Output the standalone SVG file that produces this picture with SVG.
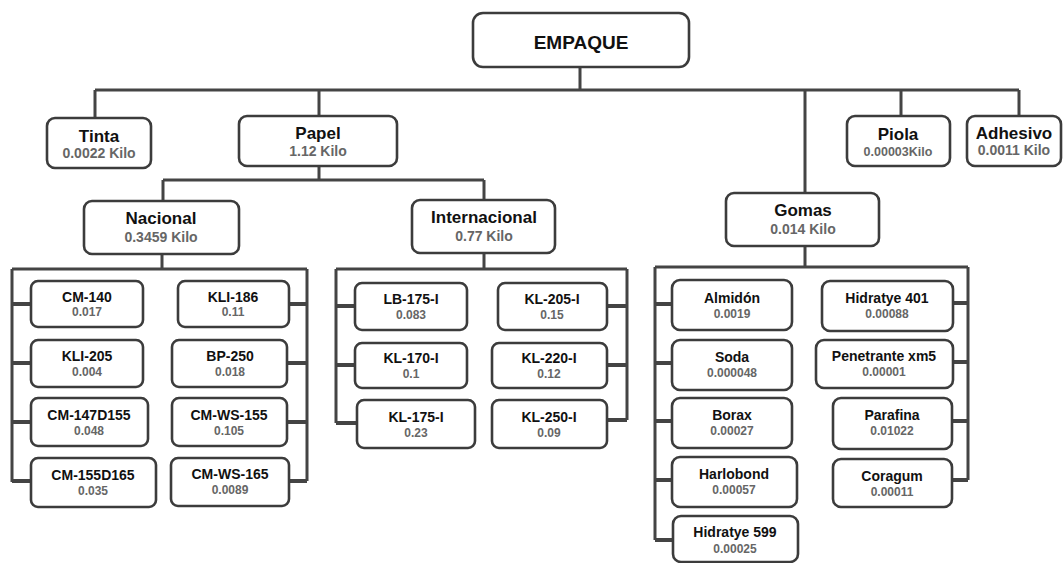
<svg xmlns="http://www.w3.org/2000/svg" width="1064" height="563" viewBox="0 0 1064 563">
<style>
.box{fill:#fff;stroke:#3c3c3c;stroke-width:2.6}
.t0{font-family:"Liberation Sans",Arial,sans-serif;font-weight:bold;font-size:19px;fill:#111;text-anchor:middle}
.t1{font-family:"Liberation Sans",Arial,sans-serif;font-weight:bold;font-size:17px;fill:#111;text-anchor:middle}
.v1{font-family:"Liberation Sans",Arial,sans-serif;font-weight:bold;font-size:14px;fill:#666;text-anchor:middle}
.v1s{font-family:"Liberation Sans",Arial,sans-serif;font-weight:bold;font-size:12.5px;fill:#666;text-anchor:middle}
.t2{font-family:"Liberation Sans",Arial,sans-serif;font-weight:bold;font-size:14px;fill:#111;text-anchor:middle}
.v2{font-family:"Liberation Sans",Arial,sans-serif;font-weight:bold;font-size:12px;fill:#666;text-anchor:middle}
.ln{fill:none;stroke:#444;stroke-width:3}
.st{fill:none;stroke:#444;stroke-width:4}
</style>
<rect width="1064" height="563" fill="#fff"/>
<g id="connectors">
<path class="ln" d="M580 67V90M95 90H1019M95 90V118M319 90V116M805 90V193M901 90V116M1019 90V116"/>
<path class="ln" d="M319 166V180M163 180H484M163 180V201M484 180V200"/>
<path class="ln" d="M162 254V269M12 269H307M12 269V482M307 269V481"/>
<path class="st" d="M12 304H31M12 363H31M12 422H31M12 481H31M289 304H307M287 363H307M287 422H307M289 481H307"/>
<path class="ln" d="M484 253V269M336 269H627M336 269V423M627 269V420"/>
<path class="st" d="M336 306H355M336 365H355M336 423H357M607 306H627M607 365H627M607 420H627"/>
<path class="ln" d="M805 246V267M655 267H968M655 267V540M968 267V480"/>
<path class="st" d="M655 304H672M655 363H672M655 421H672M655 480H672M655 540H673M953 303H968M953 362H968M952 421H968M952 480H968"/>
</g>
<g id="empaque"><rect class="box" x="473" y="13" width="216" height="54" rx="10"/><text class="t0" x="581" y="49">EMPAQUE</text></g>
<g id="tinta"><rect class="box" x="47" y="118" width="104" height="50" rx="8"/><text class="t1" x="99" y="142">Tinta</text><text class="v1" x="99" y="158">0.0022 Kilo</text></g>
<g id="papel"><rect class="box" x="239" y="116" width="158" height="50" rx="8"/><text class="t1" x="318" y="139">Papel</text><text class="v1" x="318" y="156">1.12 Kilo</text></g>
<g id="piola"><rect class="box" x="847" y="116" width="103" height="50" rx="8"/><text class="t1" x="898" y="140">Piola</text><text class="v1s" x="898" y="156">0.00003Kilo</text></g>
<g id="adhesivo"><rect class="box" x="967" y="116" width="94" height="50" rx="8"/><text class="t1" x="1014" y="139">Adhesivo</text><text class="v1" x="1014" y="155">0.0011 Kilo</text></g>
<g id="nacional"><rect class="box" x="84" y="201" width="155" height="53" rx="8"/><text class="t1" x="161" y="224">Nacional</text><text class="v1" x="161" y="242">0.3459 Kilo</text></g>
<g id="internacional"><rect class="box" x="412" y="200" width="143" height="53" rx="8"/><text class="t1" x="484" y="223">Internacional</text><text class="v1" x="484" y="241">0.77 Kilo</text></g>
<g id="gomas"><rect class="box" x="726" y="193" width="153" height="53" rx="8"/><text class="t1" x="803" y="216">Gomas</text><text class="v1" x="803" y="234">0.014 Kilo</text></g>
<g id="cm140"><rect class="box" x="31" y="281" width="112" height="46" rx="7"/><text class="t2" x="87" y="302">CM-140</text><text class="v2" x="87" y="316">0.017</text></g>
<g id="kli205"><rect class="box" x="31" y="340" width="112" height="47" rx="7"/><text class="t2" x="87" y="361">KLI-205</text><text class="v2" x="87" y="376">0.004</text></g>
<g id="cm147d155"><rect class="box" x="31" y="398" width="117" height="48" rx="7"/><text class="t2" x="89" y="420">CM-147D155</text><text class="v2" x="89" y="435">0.048</text></g>
<g id="cm155d165"><rect class="box" x="31" y="458" width="125" height="49" rx="7"/><text class="t2" x="93" y="480">CM-155D165</text><text class="v2" x="93" y="495">0.035</text></g>
<g id="kli186"><rect class="box" x="178" y="281" width="111" height="46" rx="7"/><text class="t2" x="233" y="302">KLI-186</text><text class="v2" x="233" y="316">0.11</text></g>
<g id="bp250"><rect class="box" x="172" y="340" width="115" height="47" rx="7"/><text class="t2" x="230" y="361">BP-250</text><text class="v2" x="230" y="376">0.018</text></g>
<g id="cmws155"><rect class="box" x="172" y="398" width="115" height="48" rx="7"/><text class="t2" x="229" y="420">CM-WS-155</text><text class="v2" x="229" y="435">0.105</text></g>
<g id="cmws165"><rect class="box" x="171" y="458" width="118" height="48" rx="7"/><text class="t2" x="230" y="479">CM-WS-165</text><text class="v2" x="230" y="494">0.0089</text></g>
<g id="lb175i"><rect class="box" x="355" y="283" width="112" height="47" rx="7"/><text class="t2" x="411" y="304">LB-175-I</text><text class="v2" x="411" y="319">0.083</text></g>
<g id="kl170i"><rect class="box" x="355" y="343" width="112" height="45" rx="7"/><text class="t2" x="411" y="363">KL-170-I</text><text class="v2" x="411" y="378">0.1</text></g>
<g id="kl175i"><rect class="box" x="357" y="400" width="118" height="48" rx="7"/><text class="t2" x="416" y="422">KL-175-I</text><text class="v2" x="416" y="437">0.23</text></g>
<g id="kl205i"><rect class="box" x="498" y="283" width="109" height="47" rx="7"/><text class="t2" x="552" y="304">KL-205-I</text><text class="v2" x="552" y="319">0.15</text></g>
<g id="kl220i"><rect class="box" x="492" y="343" width="115" height="45" rx="7"/><text class="t2" x="549" y="363">KL-220-I</text><text class="v2" x="549" y="378">0.12</text></g>
<g id="kl250i"><rect class="box" x="492" y="400" width="115" height="48" rx="7"/><text class="t2" x="549" y="422">KL-250-I</text><text class="v2" x="549" y="437">0.09</text></g>
<g id="almidon"><rect class="box" x="672" y="280" width="120" height="50" rx="8"/><text class="t2" x="732" y="303">Almidón</text><text class="v2" x="732" y="318">0.0019</text></g>
<g id="soda"><rect class="box" x="672" y="340" width="120" height="50" rx="8"/><text class="t2" x="732" y="362">Soda</text><text class="v2" x="732" y="377">0.000048</text></g>
<g id="borax"><rect class="box" x="672" y="398" width="120" height="50" rx="8"/><text class="t2" x="732" y="420">Borax</text><text class="v2" x="732" y="435">0.00027</text></g>
<g id="harlobond"><rect class="box" x="672" y="457" width="125" height="50" rx="8"/><text class="t2" x="734" y="479">Harlobond</text><text class="v2" x="734" y="494">0.00057</text></g>
<g id="hidratye599"><rect class="box" x="673" y="516" width="125" height="46" rx="8"/><text class="t2" x="735" y="537">Hidratye 599</text><text class="v2" x="735" y="553">0.00025</text></g>
<g id="hidratye401"><rect class="box" x="822" y="281" width="131" height="50" rx="8"/><text class="t2" x="887" y="303">Hidratye 401</text><text class="v2" x="887" y="318">0.00088</text></g>
<g id="penetrante"><rect class="box" x="816" y="340" width="137" height="48" rx="8"/><text class="t2" x="884" y="361">Penetrante xm5</text><text class="v2" x="884" y="376">0.00001</text></g>
<g id="parafina"><rect class="box" x="833" y="398" width="119" height="51" rx="8"/><text class="t2" x="892" y="420">Parafina</text><text class="v2" x="892" y="435">0.01022</text></g>
<g id="coragum"><rect class="box" x="833" y="459" width="119" height="48" rx="8"/><text class="t2" x="892" y="481">Coragum</text><text class="v2" x="892" y="496">0.00011</text></g>
</svg>
